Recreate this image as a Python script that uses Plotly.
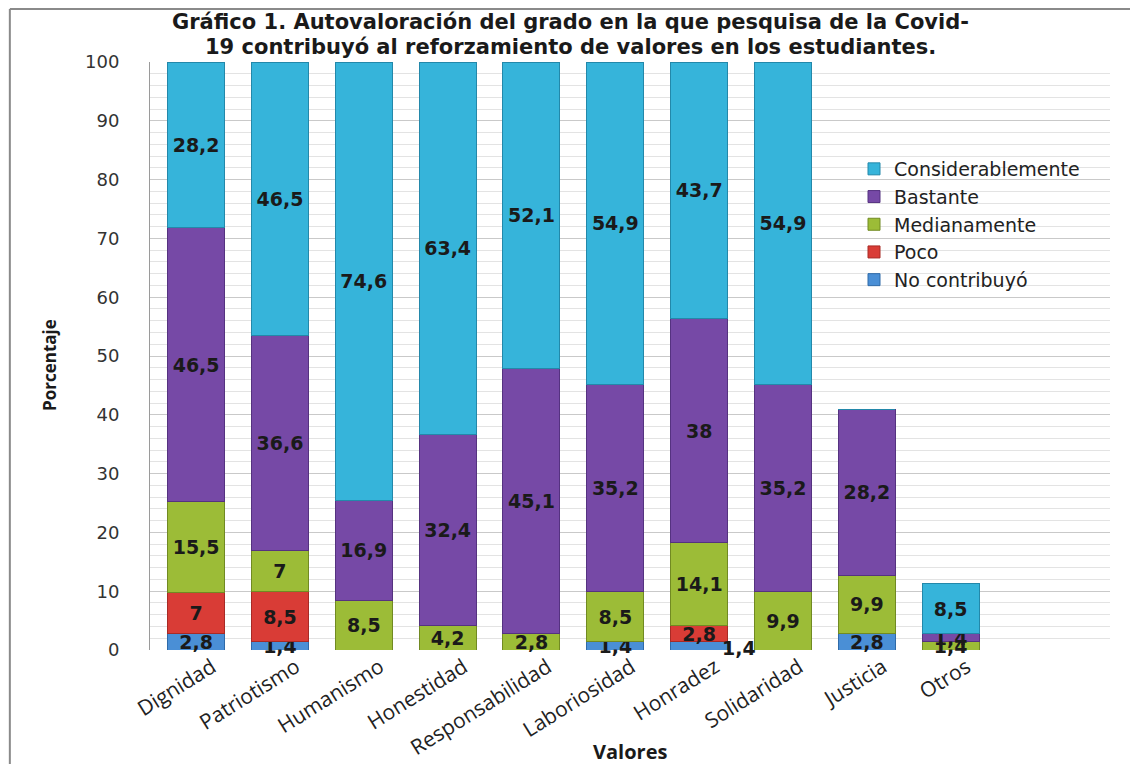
import plotly.graph_objects as go

categorias = ["Dignidad", "Patriotismo", "Humanismo", "Honestidad", "Responsabilidad",
              "Laboriosidad", "Honradez", "Solidaridad", "Justicia", "Otros"]
no_contribuyo = [2.8, 1.4, 0, 0, 0, 1.4, 1.4, 0, 2.8, 0]
poco = [7, 8.5, 0, 0, 0, 0, 2.8, 0, 0, 0]
medianamente = [15.5, 7, 8.5, 4.2, 2.8, 8.5, 14.1, 9.9, 9.9, 1.4]
bastante = [46.5, 36.6, 16.9, 32.4, 45.1, 35.2, 38, 35.2, 28.2, 1.4]
considerablemente = [28.2, 46.5, 74.6, 63.4, 52.1, 54.9, 43.7, 54.9, 0, 8.5]

series = [
    ("No contribuyó", no_contribuyo, "#4A8FD6", "#2F6AA8"),
    ("Poco", poco, "#D93C36", "#A82A25"),
    ("Medianamente", medianamente, "#9CBC37", "#718A22"),
    ("Bastante", bastante, "#7649A6", "#553280"),
    ("Considerablemente", considerablemente, "#36B4DA", "#2388AA"),
]

LABEL_FONT = dict(family="DejaVu Sans", size=19, color="#1a1a1a", weight="bold")


def fmt(v):
    return "" if v == 0 else f"{v:g}".replace(".", ",")


fig = go.Figure()
for name, vals, col, edge in series:
    texts = [fmt(v) for v in vals]
    if name == "No contribuyó":
        texts[6] = ""  # Honradez label drawn beside the bar below
    fig.add_trace(go.Bar(
        name=name, x=categorias, y=vals,
        marker=dict(color=col, line=dict(color=edge, width=1)),
        text=texts,
        textposition="inside", insidetextanchor="middle",
        constraintext="none", cliponaxis=False,
        textfont=LABEL_FONT,
        width=0.68,
    ))

annotations = [
    dict(text="<b>Gráfico 1. Autovaloración del grado en la que pesquisa de la Covid-</b>",
         xref="paper", yref="paper", x=0.4375, y=1 + (62 - 22) / 588,
         xanchor="center", yanchor="middle", showarrow=False,
         font=dict(family="DejaVu Sans", size=21, color="#1a1a1a")),
    dict(text="<b>19 contribuyó al reforzamiento de valores en los estudiantes.</b>",
         xref="paper", yref="paper", x=0.4375, y=1 + (62 - 47) / 588,
         xanchor="center", yanchor="middle", showarrow=False,
         font=dict(family="DejaVu Sans", size=21, color="#1a1a1a")),
    dict(text="<b>Porcentaje</b>", textangle=-90,
         xref="paper", yref="paper", x=-0.104, y=0.485,
         xanchor="center", yanchor="middle", showarrow=False,
         font=dict(family="Open Sans", size=17, color="#1a1a1a")),
    dict(text="<b>Valores</b>",
         xref="paper", yref="paper", x=0.5, y=-(751 - 650) / 588,
         xanchor="center", yanchor="middle", showarrow=False,
         font=dict(family="Open Sans", size=20, color="#1a1a1a")),
    dict(text=fmt(no_contribuyo[6]), x=categorias[6], y=no_contribuyo[6] / 2,
         xref="x", yref="y", xshift=40, yshift=-2, showarrow=False,
         xanchor="center", yanchor="middle", font=LABEL_FONT),
]

# page body adds an 8px offset: figure pixels = screen pixels - 8
fig.update_layout(
    width=1130, height=756,
    barmode="stack",
    paper_bgcolor="white", plot_bgcolor="white",
    margin=dict(l=142, r=28, t=54, b=114, autoexpand=False),
    showlegend=True,
    legend=dict(x=(854 - 150) / 960, y=(650 - 150) / 588, xanchor="left", yanchor="top",
                traceorder="reversed", bgcolor="rgba(255,255,255,0)",
                font=dict(family="DejaVu Sans", size=19, color="#222"),
                itemwidth=30, tracegroupgap=0),
    xaxis=dict(range=[-0.55, 10.9], tickangle=-32, automargin=False,
               ticklabelshift=16,
               tickfont=dict(family="Open Sans", size=21, color="#222"),
               showgrid=False, showline=False, ticks=""),
    yaxis=dict(range=[0, 100], dtick=10, tick0=0, automargin=False,
               tickfont=dict(family="DejaVu Sans", size=18, color="#333"),
               ticklabelstandoff=26,
               showline=True, linecolor="#9a9a9a", linewidth=1,
               gridcolor="#c9c9c9", gridwidth=1,
               minor=dict(dtick=2, showgrid=True, gridcolor="#e3e3e3", gridwidth=1),
               zeroline=False),
    annotations=annotations,
    shapes=[
        dict(type="line", xref="paper", yref="paper", x0=-0.146, x1=-0.146,
             y0=1 + (62 - 9) / 588, y1=-0.2, line=dict(color="#8a8a8a", width=2)),
        dict(type="line", xref="paper", yref="paper", x0=-0.146, x1=1.03,
             y0=1 + (62 - 9) / 588, y1=1 + (62 - 9) / 588, line=dict(color="#8a8a8a", width=2)),
    ],
)

fig.write_html("out.html")
